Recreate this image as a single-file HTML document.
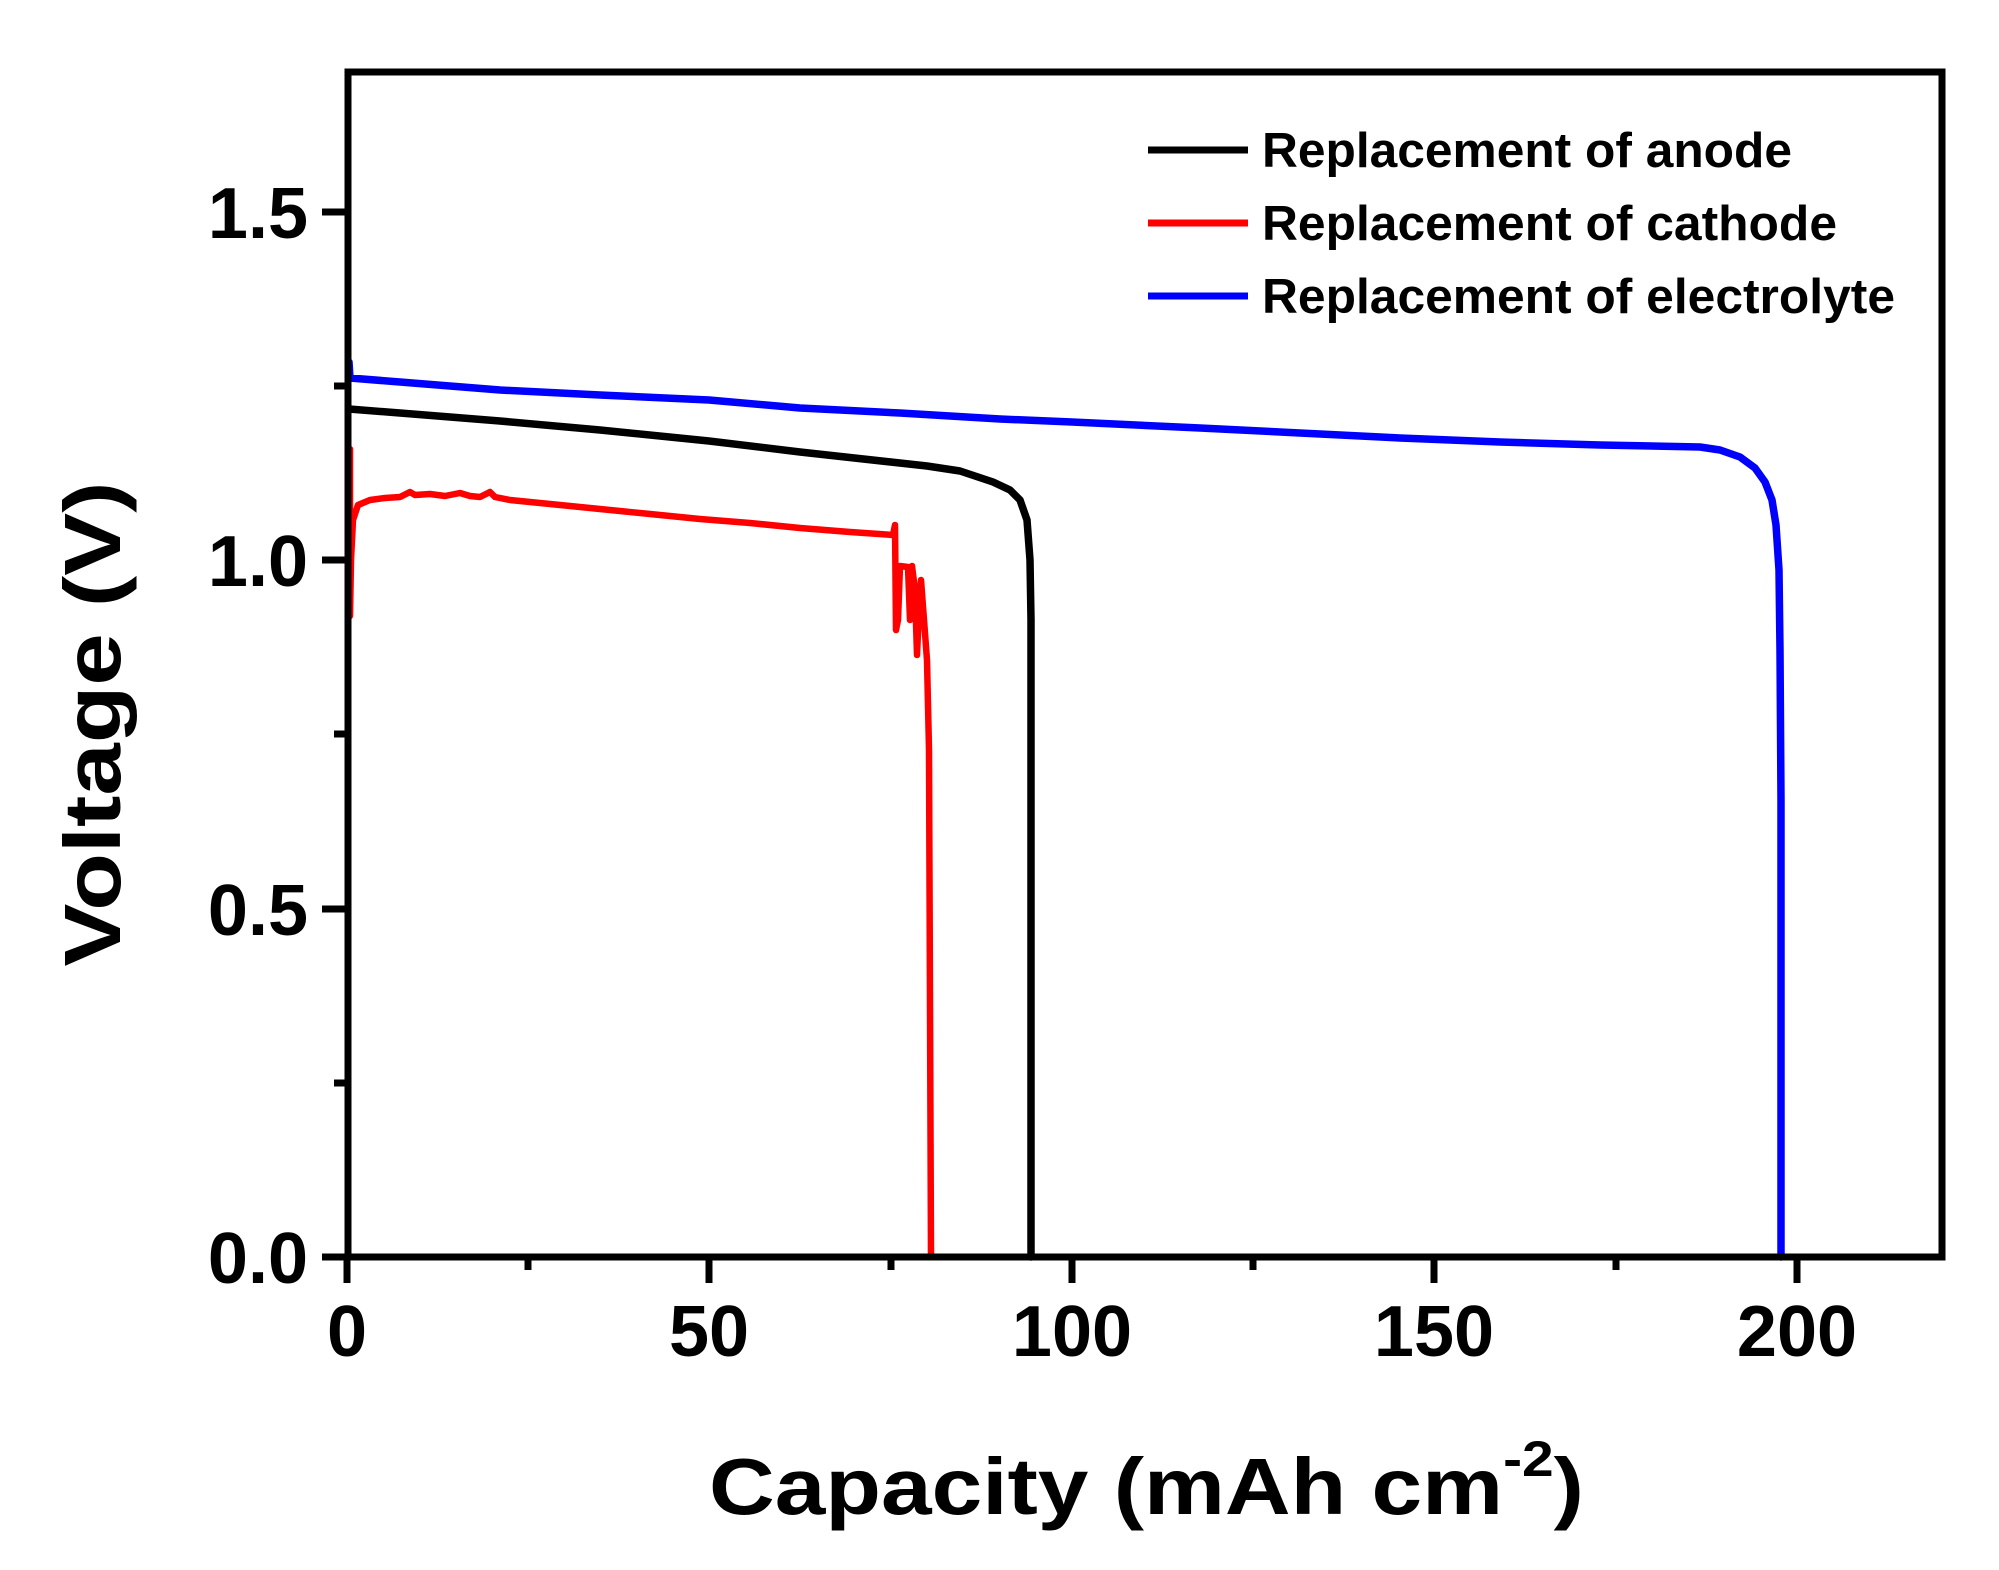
<!DOCTYPE html>
<html><head><meta charset="utf-8"><style>html,body{margin:0;padding:0;background:#fff}svg{display:block}</style></head>
<body>
<svg width="1999" height="1570" viewBox="0 0 1999 1570" xmlns="http://www.w3.org/2000/svg" font-family="'Liberation Sans', Arial, sans-serif" font-weight="bold">
<rect width="1999" height="1570" fill="#fff"/>
<g fill="none" stroke-width="7.5" stroke-linejoin="round" stroke-linecap="round">
<polyline stroke="#0000ff" points="349,362 350,378 400,382 500,390 600,395 709,400 800,408 900,413 1000,419 1072,422 1200,428 1300,433 1400,438 1500,442 1600,445 1700,447 1720,450 1740,457 1755,468 1765,482 1772,500 1776,525 1779,570 1780,650 1781,800 1781,1257"/>
<polyline stroke="#000" points="349,409 400,413 500,421 600,430 709,441 800,452 927,466 960,471 993,482 1010,490 1020,500 1027,520 1030,560 1031,620 1031,1257"/>
<polyline stroke="#ff0000" stroke-width="6.5" points="350,449 350,616 351,560 353,520 358,505 370,500 385,498 400,497 410,492 415,495 430,494 445,496 460,493 470,496 480,497 490,492 495,497 510,500 550,504 600,509 650,514 700,519 750,523 800,528 850,532 893,535 895,525 896,630 898,620 900,566 908,567 910,620 912,566 915,590 917,655 919,610 921,580 924,620 927,660 929,750 931,1257"/>
</g>
<rect x="348" y="72" width="1594" height="1185" fill="none" stroke="#000" stroke-width="7"/>
<g stroke="#000" stroke-width="7">
<line x1="347" y1="1257" x2="347" y2="1283"/>
<line x1="709" y1="1257" x2="709" y2="1283"/>
<line x1="1072" y1="1257" x2="1072" y2="1283"/>
<line x1="1434" y1="1257" x2="1434" y2="1283"/>
<line x1="1797" y1="1257" x2="1797" y2="1283"/>
<line x1="528" y1="1257" x2="528" y2="1270"/>
<line x1="891" y1="1257" x2="891" y2="1270"/>
<line x1="1253" y1="1257" x2="1253" y2="1270"/>
<line x1="1616" y1="1257" x2="1616" y2="1270"/>
<line x1="322" y1="1257" x2="348" y2="1257"/>
<line x1="322" y1="909" x2="348" y2="909"/>
<line x1="322" y1="560" x2="348" y2="560"/>
<line x1="322" y1="212" x2="348" y2="212"/>
<line x1="334" y1="1083" x2="348" y2="1083"/>
<line x1="334" y1="734" x2="348" y2="734"/>
<line x1="334" y1="386" x2="348" y2="386"/>
</g>
<g font-size="72" text-anchor="middle" fill="#000">
<text x="347" y="1356">0</text>
<text x="709" y="1356">50</text>
<text x="1072" y="1356">100</text>
<text x="1434" y="1356">150</text>
<text x="1797" y="1356">200</text>
</g>
<g font-size="72" text-anchor="end" fill="#000">
<text x="308" y="1283">0.0</text>
<text x="308" y="935">0.5</text>
<text x="308" y="586">1.0</text>
<text x="308" y="238">1.5</text>
</g>
<text x="709" y="1514" font-size="80" textLength="875" lengthAdjust="spacingAndGlyphs" fill="#000">Capacity (mAh cm<tspan font-size="50" dy="-38">-2</tspan><tspan font-size="80" dy="38">)</tspan></text>
<text transform="translate(120,724) rotate(-90)" text-anchor="middle" font-size="80" textLength="485" lengthAdjust="spacingAndGlyphs" fill="#000">Voltage (V)</text>
<g stroke-width="7">
<line x1="1156" y1="150" x2="1256" y2="150" stroke="#000" transform="translate(-8,0)"/>
<line x1="1156" y1="223" x2="1256" y2="223" stroke="#ff0000" transform="translate(-8,0)"/>
<line x1="1156" y1="296" x2="1256" y2="296" stroke="#0000ff" transform="translate(-8,0)"/>
</g>
<g font-size="49" fill="#000">
<text x="1262" y="167" textLength="530" lengthAdjust="spacingAndGlyphs">Replacement of anode</text>
<text x="1262" y="240" textLength="575" lengthAdjust="spacingAndGlyphs">Replacement of cathode</text>
<text x="1262" y="313" textLength="633" lengthAdjust="spacingAndGlyphs">Replacement of electrolyte</text>
</g>
</svg>
</body></html>
